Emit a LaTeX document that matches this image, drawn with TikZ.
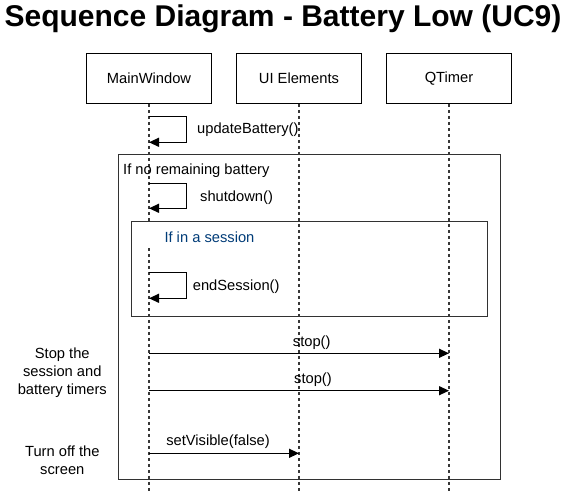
\documentclass[tikz,border=0pt]{standalone}
\usepackage{fontspec}
\setmainfont{Liberation Sans}
\usetikzlibrary{arrows.meta}
\definecolor{framegray}{RGB}{50,50,50}
\definecolor{lifegray}{RGB}{55,55,55}
\definecolor{condblue}{RGB}{0,60,120}
\tikzset{
  actorbox/.style={draw=black, line width=1.3pt, fill=white, minimum width=125pt, minimum height=50pt, inner sep=0pt, font=\fontsize{14.7}{17}\selectfont},
  lifeline/.style={draw=lifegray, line width=1.4pt, dash pattern=on 3pt off 3pt},
  framebox/.style={draw=framegray, line width=1.5pt},
  msg/.style={draw=black, line width=1.3pt, -{Triangle[length=10pt,width=9pt]}},
  lbl/.style={font=\fontsize{14.7}{17}\selectfont, inner sep=0pt},
  note/.style={font=\fontsize{14.7}{18}\selectfont, align=center, inner sep=0pt},
}
\begin{document}
\begin{tikzpicture}[x=1pt,y=-1pt]
\useasboundingbox (0,0) rectangle (566,491);
% title
\node[anchor=base, font=\fontsize{30}{34}\bfseries\selectfont, inner sep=0pt] (title) at (283,26) {Sequence Diagram - Battery Low (UC9)};
% actors
\node[actorbox] (mw) at (149,78.3) {MainWindow};
\node[actorbox] (ui) at (299,78.3) {UI Elements};
\node[actorbox] (qt) at (449,78.3) {QTimer};
\coordinate (mwend) at (149,491);
\coordinate (uiend) at (299,491);
\coordinate (qtend) at (449,491);
% frames
\node[framebox, minimum width=382pt, minimum height=325pt, inner sep=0pt, anchor=north west] (outer) at (117.5,153.5) {};
\node[framebox, minimum width=356pt, minimum height=95pt, inner sep=0pt, anchor=north west] (inner) at (130.5,220.5) {};
% lifelines
\draw[lifeline] (mw.south) -- (mwend);
\draw[lifeline] (ui.south) -- (uiend);
\draw[lifeline] (qt.south) -- (qtend);
% white label area covering lifeline
\node[fill=white, minimum width=140pt, minimum height=24pt, inner sep=0pt, anchor=north west] (condbg) at (140,224) {};
\node[lbl, anchor=west, text=condblue] (cond2) at (164.3,237.7) {If in a session};
\node[lbl, anchor=west] (cond1) at (123,171) {If no remaining battery};
% self messages
\coordinate (u1) at (149,116.7); \coordinate (u2) at (186.7,116.7); \coordinate (u3) at (186.7,142.3); \coordinate (u4) at (149,142.3);
\draw[msg] (u1) -- (u2) -- (u3) -- (u4);
\node[lbl, anchor=west] (updl) at (197,130) {updateBattery()};
\coordinate (s1) at (149,183.3); \coordinate (s2) at (186.7,183.3); \coordinate (s3) at (186.7,208.3); \coordinate (s4) at (149,208.3);
\draw[msg] (s1) -- (s2) -- (s3) -- (s4);
\node[lbl, anchor=west] (shl) at (200,197.5) {shutdown()};
\coordinate (e1) at (149,272.7); \coordinate (e2) at (186.7,272.7); \coordinate (e3) at (186.7,298.3); \coordinate (e4) at (149,298.3);
\draw[msg] (e1) -- (e2) -- (e3) -- (e4);
\node[lbl, anchor=west] (esl) at (192.7,286.7) {endSession()};
% messages
\coordinate (m1a) at (149,353.3); \coordinate (m1b) at (449,353.3);
\draw[msg] (m1a) -- (m1b);
\node[lbl] (st1) at (311.7,343) {stop()};
\coordinate (m2a) at (149,390.7); \coordinate (m2b) at (449,390.7);
\draw[msg] (m2a) -- (m2b);
\node[lbl] (st2) at (313,380) {stop()};
\coordinate (m3a) at (149,453.3); \coordinate (m3b) at (299,453.3);
\draw[msg] (m3a) -- (m3b);
\node[lbl] (sv) at (218,442) {setVisible(false)};
% notes
\node[note] (n1) at (62.3,373) {Stop the\\session and\\battery timers};
\node[note] (n2) at (62.3,460) {Turn off the\\screen};
\end{tikzpicture}
\end{document}
